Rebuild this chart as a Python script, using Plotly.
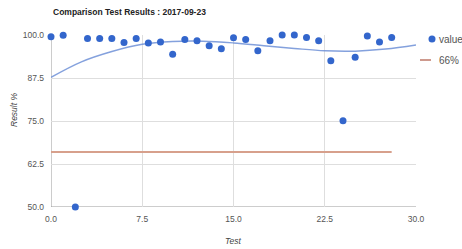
import plotly.graph_objects as go

# ---- data ----
test_ids = list(range(29))
values = [99.5, 99.9, 50.0, 99.0, 99.0, 99.0, 97.8, 99.0, 97.7, 98.0,
          94.4, 98.7, 98.3, 96.9, 96.0, 99.2, 98.7, 95.4, 98.3, 100.0,
          100.0, 99.3, 98.3, 92.5, 75.1, 93.5, 99.7, 98.0, 99.3]

trend_x = [0, 2.5, 5, 7.5, 10, 12.5, 15, 17.5, 20, 22.5, 25, 27.5, 30]
trend_y = [87.7, 92.2, 95.2, 97.3, 98.1, 98.2, 97.7, 96.9, 96.1, 95.4, 95.3, 95.9, 97.1]

ref_x = [0, 28]
ref_y = [66, 66]

x_ticks = [0, 7.5, 15, 22.5, 30]
y_ticks = [50, 62.5, 75, 87.5, 100]

title_text = "Comparison Test Results : 2017-09-23"
series_names = ["value", "66%"]

BLUE = "#3366CC"
RED = "rgb(215,160,140)"
RED_LEG = "rgb(190,120,105)"
TREND = "rgba(110,145,215,0.85)"
FONT = "Liberation Sans, Arial, sans-serif"

fig = go.Figure()
fig.add_trace(go.Scatter(x=ref_x, y=ref_y, mode="lines",
                         line=dict(color=RED, width=2), name=series_names[1],
                         showlegend=False, hoverinfo="skip"))
fig.add_trace(go.Scatter(x=trend_x, y=trend_y, mode="lines",
                         line=dict(color=TREND, width=1.5, shape="spline"),
                         showlegend=False, hoverinfo="skip"))
fig.add_trace(go.Scatter(x=test_ids, y=values, mode="markers",
                         marker=dict(color=BLUE, size=7), name=series_names[0],
                         showlegend=False, cliponaxis=False))

L, R, T, B = 51, 46, 35, 42
W, H = 462, 249
pw = W - L - R
ph = H - T - B

def px_x(p):
    return (p - L) / pw

def px_y(p):
    return 1 - (p - T) / ph

fig.update_layout(
    width=W, height=H,
    margin=dict(l=L, r=R, t=T, b=B, pad=0),
    paper_bgcolor="white", plot_bgcolor="white",
    font=dict(family=FONT, size=8.5, color="#555"),
    showlegend=False,
    xaxis=dict(range=[0, 30], tickvals=x_ticks, tickformat=".1f",
               showgrid=True, gridcolor="#dedede", gridwidth=1,
               zeroline=False, showline=False, ticks="",
               ticklabelstandoff=5, fixedrange=True),
    yaxis=dict(range=[50, 100], tickvals=y_ticks, tickformat=".1f",
               showgrid=True, gridcolor="#dedede", gridwidth=1,
               zeroline=False, showline=False, ticks="",
               ticklabelstandoff=6, fixedrange=True),
    shapes=[
        dict(type="line", xref="x", yref="paper", x0=0, x1=0, y0=0, y1=1,
             line=dict(color="#9a9a9a", width=1), layer="below"),
        dict(type="line", xref="paper", yref="y", x0=0, x1=1, y0=50, y1=50,
             line=dict(color="#9a9a9a", width=1), layer="below"),
        # legend symbols
        dict(type="circle", xref="paper", yref="paper",
             x0=px_x(428.5), x1=px_x(435.5), y0=px_y(42.5), y1=px_y(35.5),
             fillcolor=BLUE, line=dict(width=0)),
        dict(type="line", xref="paper", yref="paper",
             x0=px_x(420), x1=px_x(431), y0=px_y(60), y1=px_y(60),
             line=dict(color=RED_LEG, width=1.5)),
    ],
    annotations=[
        dict(text="<b>" + title_text + "</b>", xref="paper", yref="paper",
             x=px_x(51), y=px_y(12), xanchor="left", yanchor="middle",
             showarrow=False, font=dict(size=8.5, color="#222")),
        dict(text="<i>Result %</i>", xref="paper", yref="paper",
             x=px_x(14), y=px_y(110), xanchor="center", yanchor="middle",
             textangle=-90, showarrow=False, font=dict(size=8.5, color="#444")),
        dict(text="<i>Test</i>", xref="paper", yref="paper",
             x=px_x(233), y=px_y(241), xanchor="center", yanchor="middle",
             showarrow=False, font=dict(size=8.5, color="#444")),
        dict(text=series_names[0], xref="paper", yref="paper",
             x=px_x(437), y=px_y(39), xanchor="left", yanchor="middle",
             showarrow=False, font=dict(size=10, color="#555")),
        dict(text=series_names[1], xref="paper", yref="paper",
             x=px_x(437), y=px_y(60), xanchor="left", yanchor="middle",
             showarrow=False, font=dict(size=10, color="#555")),
    ],
)

fig.write_html("out.html", config={"displayModeBar": False},
               post_script="document.body.style.margin='0';document.body.style.overflow='hidden';")
